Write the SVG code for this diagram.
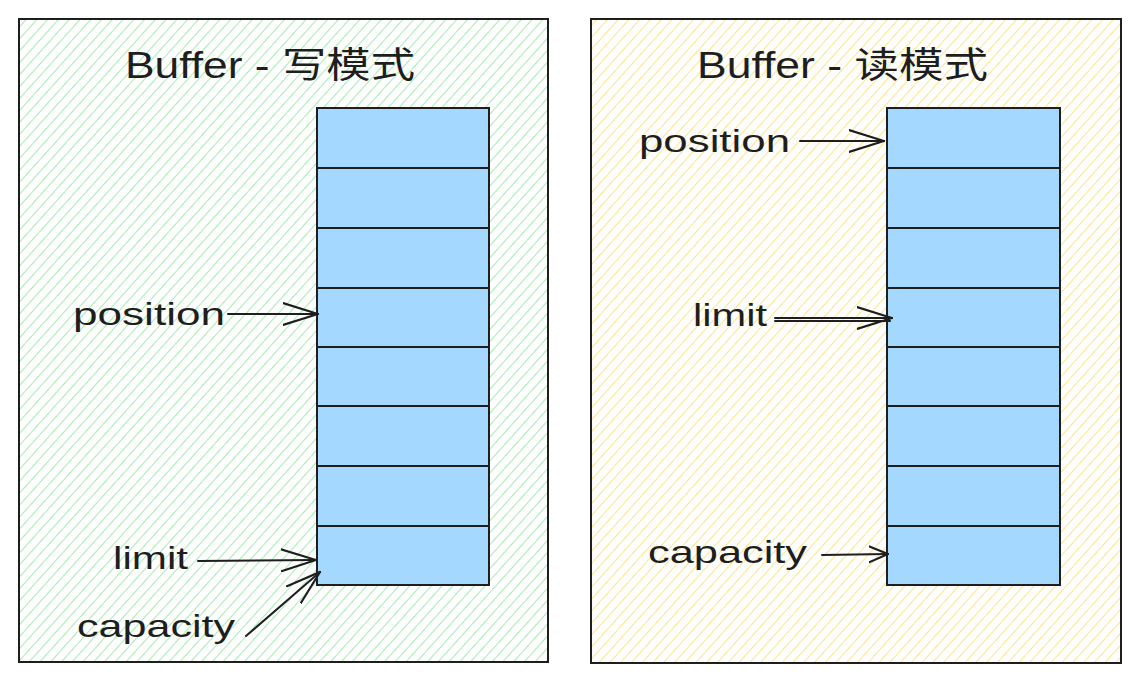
<svg xmlns="http://www.w3.org/2000/svg" width="1140" height="683" viewBox="0 0 1140 683">
<defs>
<pattern id="hg" width="8" height="8" patternUnits="userSpaceOnUse" patternTransform="rotate(42)">
<line x1="0" y1="0" x2="0" y2="8" stroke="#a6ebb1" stroke-width="2"/>
</pattern>
<pattern id="hy" width="8" height="8" patternUnits="userSpaceOnUse" patternTransform="rotate(42)">
<line x1="0" y1="0" x2="0" y2="8" stroke="#fde48a" stroke-width="2"/>
</pattern>
<marker id="ah" viewBox="0 0 20 20" refX="19" refY="10" markerWidth="20" markerHeight="20" markerUnits="userSpaceOnUse" orient="auto">
<path d="M0,2 L19,10 L0,18" fill="none" stroke="#1e1e1e" stroke-width="2" stroke-linecap="round"/>
</marker>
<marker id="ahb" viewBox="0 0 36 24" refX="35" refY="12" markerWidth="36" markerHeight="24" markerUnits="userSpaceOnUse" orient="auto">
<path d="M0,1 L35,12 L0,23" fill="none" stroke="#1e1e1e" stroke-width="2.2" stroke-linecap="round"/>
</marker>
</defs>
<style>
.panel{stroke:#1e1e1e;stroke-width:2}
.cell{fill:#a5d8ff;stroke:#1e1e1e;stroke-width:2}
.title{font-family:"Liberation Sans","Noto Sans CJK SC",sans-serif;font-size:36px;fill:#1e1e1e}
.lbl{font-family:"Liberation Sans",sans-serif;font-size:32px;fill:#1e1e1e}
.conn{fill:none;stroke:#1e1e1e;stroke-width:2;stroke-linecap:round}
</style>
<rect width="1140" height="683" fill="#ffffff"/>
<g id="panel-write">
<rect x="19" y="19" width="529" height="643" fill="url(#hg)" class="panel"/>
<text x="125" y="78" class="title" textLength="290" lengthAdjust="spacingAndGlyphs">Buffer - 写模式</text>
</g>
<g id="panel-read">
<rect x="591" y="19" width="530" height="644" fill="url(#hy)" class="panel"/>
<text x="697" y="78" class="title" textLength="291" lengthAdjust="spacingAndGlyphs">Buffer - 读模式</text>
</g>
<g id="buffer-write">
<rect class="cell" x="317" y="108" width="172" height="60"/>
<rect class="cell" x="317" y="168" width="172" height="60"/>
<rect class="cell" x="317" y="228" width="172" height="60"/>
<rect class="cell" x="317" y="288" width="172" height="59"/>
<rect class="cell" x="317" y="347" width="172" height="59"/>
<rect class="cell" x="317" y="406" width="172" height="60"/>
<rect class="cell" x="317" y="466" width="172" height="60"/>
<rect class="cell" x="317" y="526" width="172" height="59"/>
</g>
<g id="buffer-read">
<rect class="cell" x="887" y="108" width="173" height="60"/>
<rect class="cell" x="887" y="168" width="173" height="60"/>
<rect class="cell" x="887" y="228" width="173" height="60"/>
<rect class="cell" x="887" y="288" width="173" height="59"/>
<rect class="cell" x="887" y="347" width="173" height="59"/>
<rect class="cell" x="887" y="406" width="173" height="60"/>
<rect class="cell" x="887" y="466" width="173" height="60"/>
<rect class="cell" x="887" y="526" width="173" height="59"/>
</g>
<g id="label-w-position"><text x="73" y="325" class="lbl" textLength="152" lengthAdjust="spacingAndGlyphs">position</text></g>
<g id="label-w-limit"><text x="113" y="569" class="lbl" textLength="75" lengthAdjust="spacingAndGlyphs">limit</text></g>
<g id="label-w-capacity"><text x="77" y="637" class="lbl" textLength="158" lengthAdjust="spacingAndGlyphs">capacity</text></g>
<g id="label-r-position"><text x="639" y="152" class="lbl" textLength="151" lengthAdjust="spacingAndGlyphs">position</text></g>
<g id="label-r-limit"><text x="693" y="326" class="lbl" textLength="74" lengthAdjust="spacingAndGlyphs">limit</text></g>
<g id="label-r-capacity"><text x="648" y="563" class="lbl" textLength="159" lengthAdjust="spacingAndGlyphs">capacity</text></g>
<g id="connectors">
<path class="conn" d="M228,314 L318,314" marker-end="url(#ahb)"/>
<path class="conn" d="M198,561 L316,560" marker-end="url(#ahb)"/>
<path class="conn" d="M246,636 L320,572" marker-end="url(#ahb)"/>
<path class="conn" d="M800,141 L884,141" marker-end="url(#ahb)"/>
<path class="conn" d="M775,318 L892,318" marker-end="url(#ahb)"/>
<path class="conn" d="M775,321 L890,321"/>
<path class="conn" d="M822,555 L888,554" marker-end="url(#ah)"/>
</g>
</svg>
